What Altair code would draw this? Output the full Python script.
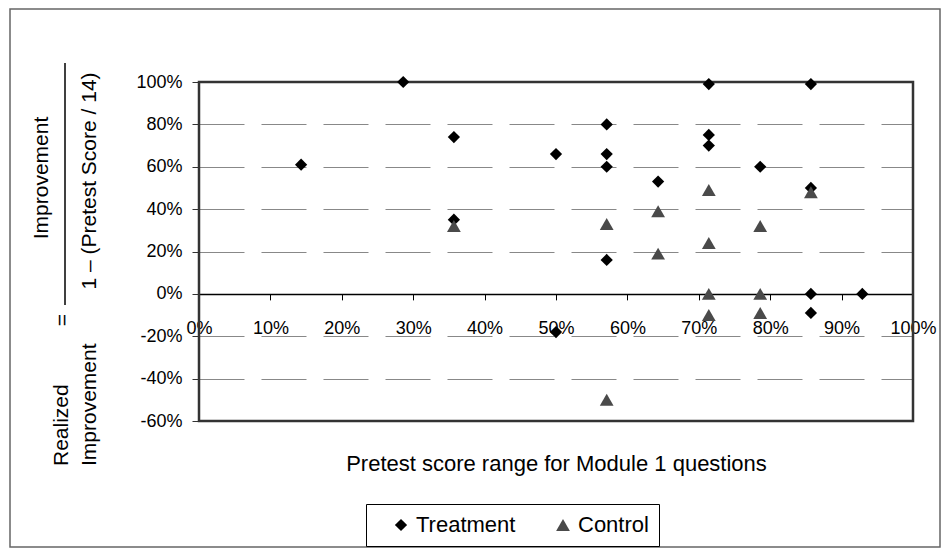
import altair as alt
import pandas as pd

# ---- data ----
x_ticks = [0.0, 0.1, 0.2, 0.3, 0.4, 0.5, 0.6, 0.7, 0.8, 0.9, 1.0]
y_ticks = [-0.6, -0.4, -0.2, 0.0, 0.2, 0.4, 0.6, 0.8, 1.0]

treat_x = [0.143, 0.286, 0.357, 0.357, 0.500, 0.500, 0.571, 0.571, 0.571, 0.571,
           0.643, 0.714, 0.714, 0.714, 0.786, 0.857, 0.857, 0.857, 0.857, 0.929]
treat_y = [0.61, 1.00, 0.74, 0.35, 0.66, -0.18, 0.80, 0.66, 0.60, 0.16,
           0.53, 0.99, 0.75, 0.70, 0.60, 0.99, 0.50, 0.00, -0.09, 0.00]
ctrl_x = [0.357, 0.571, 0.571, 0.643, 0.643, 0.714, 0.714, 0.714, 0.714,
          0.786, 0.786, 0.786, 0.857]
ctrl_y = [0.32, 0.33, -0.50, 0.39, 0.19, 0.49, 0.24, 0.00, -0.10,
          0.32, 0.00, -0.09, 0.48]

groups = ["Treatment", "Control"]
group_colors = ["#000000", "#4a4a4a"]
group_shapes = ["diamond", "triangle-up"]
group_sizes = [150, 190]

x_title = "Pretest score range for Module 1 questions"
num_text = "Improvement"
den_text = "1 \u2013 (Pretest Score / 14)"
lhs_line1 = "Realized"
lhs_line2 = "Improvement"

FONT = "Liberation Sans"
W, H = 714, 339

df = pd.DataFrame({
    "x": treat_x + ctrl_x,
    "y": treat_y + ctrl_y,
    "group": ["Treatment"] * len(treat_x) + ["Control"] * len(ctrl_x),
})

zero_from_bottom = H * 0.6 / 1.6

legend = alt.Legend(
    title=None, orient="none", legendX=167, legendY=422, direction="horizontal",
    strokeColor="black", padding=10, labelFontSize=22, labelFont=FONT,
    labelColor="black", symbolSize=70, symbolOffset=14, labelOffset=4,
    columnPadding=22, symbolStrokeWidth=0,
)

points = alt.Chart(df).mark_point(filled=True, opacity=1).encode(
    x=alt.X("x:Q", scale=alt.Scale(domain=[0, 1], nice=False, zero=False),
            axis=alt.Axis(values=x_ticks, labelExpr="round(datum.value*100) + '%'",
                          offset=-zero_from_bottom, domain=True, domainColor="black",
                          domainWidth=1.5, ticks=True, tickSize=6, tickColor="black",
                          labelPadding=20, labelFontSize=18, labelColor="black",
                          labelFont=FONT, labelFlush=False, grid=False,
                          title=x_title, titleFontSize=22, titleFontWeight="normal",
                          titleFont=FONT, titleColor="black", titleY=170,
                          titleBaseline="middle")),
    y=alt.Y("y:Q", scale=alt.Scale(domain=[-0.6, 1.0], nice=False),
            axis=alt.Axis(values=y_ticks, labelExpr="round(datum.value*100) + '%'",
                          domain=False, tickSize=7, tickColor="#333333", labelPadding=10,
                          labelFontSize=18, labelColor="black", labelFont=FONT,
                          grid=True, gridColor="#888888", gridDash=[45, 17],
                          gridWidth=1, title=None)),
    shape=alt.Shape("group:N", scale=alt.Scale(domain=groups, range=group_shapes), legend=legend),
    color=alt.Color("group:N", scale=alt.Scale(domain=groups, range=group_colors), legend=legend),
    size=alt.Size("group:N", scale=alt.Scale(domain=groups, range=group_sizes), legend=None),
)

one = pd.DataFrame({"k": [0]})


def vtext(s, x, y, align="center", size=21):
    return alt.Chart(one).mark_text(
        text=s, angle=270, align=align, baseline="middle", fontSize=size,
        font=FONT, color="black"
    ).encode(x=alt.value(x), y=alt.value(y))


frame = alt.Chart(one).mark_rect(fill="transparent", stroke="#666666", strokeWidth=1.5).encode(
    x=alt.value(-189), x2=alt.value(741), y=alt.value(-73), y2=alt.value(465)
)
plot_border = alt.Chart(one).mark_rect(fill="transparent", stroke="#333333", strokeWidth=2.5).encode(
    x=alt.value(0), x2=alt.value(W), y=alt.value(0), y2=alt.value(H)
)
bar = alt.Chart(one).mark_rule(color="black", strokeWidth=1.5).encode(
    x=alt.value(-134), y=alt.value(-19), y2=alt.value(223)
)

chart = alt.layer(
    frame,
    plot_border,
    points,
    vtext(num_text, -157, 96),
    vtext(den_text, -109, 99),
    bar,
    vtext("=", -136, 238),
    vtext(lhs_line1, -137, 384, align="left"),
    vtext(lhs_line2, -109, 384, align="left"),
).properties(
    width=W, height=H,
    autosize=alt.AutoSizeParams(type="none"),
    padding={"left": 191, "top": 74, "right": 28, "bottom": 127},
).configure(font=FONT, view=alt.ViewConfig(stroke="#333333", strokeWidth=2))

chart.save("out.html", embed_options={"renderer": "svg", "actions": False})
